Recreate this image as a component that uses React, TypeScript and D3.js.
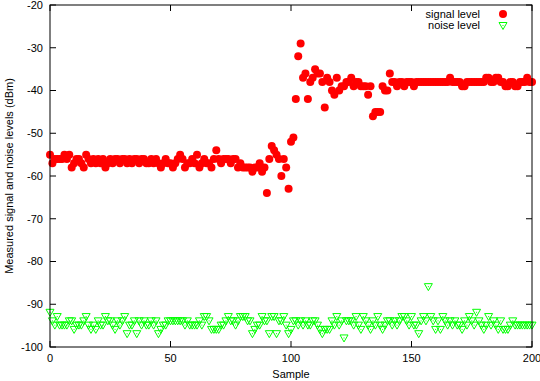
import React from "react";
import * as d3 from "d3";

const signalLevel: number[] = [
  -55, -57, -56, -56, -56, -56, -55, -56, -55, -58, -57, -56, -56, -57, -58, -55, -56, -57, -56, -57,
  -56, -57, -56, -58, -57, -56, -57, -56, -56, -57, -56, -56, -57, -56, -57, -56, -56, -57, -56, -56,
  -57, -57, -56, -57, -56, -57, -58, -57, -56, -57, -57, -58, -57, -56, -55, -56, -58, -57, -57, -56,
  -57, -55, -58, -57, -56, -57, -57, -58, -56, -54, -56, -57, -56, -56, -56, -57, -56, -56, -58, -57,
  -58, -58, -58, -58, -59, -58, -58, -57, -59, -58, -64, -56, -53, -54, -55, -56, -60, -56, -58, -63,
  -52, -51, -42, -32, -29, -37, -36, -42, -38, -37, -35, -36, -36, -38, -44, -37, -38, -40, -41, -37,
  -40, -39, -39, -38, -38, -37, -39, -38, -38, -39, -39, -39, -41, -39, -46, -45, -45, -45, -39, -40,
  -40, -36, -38, -38, -39, -38, -38, -39, -38, -38, -38, -39, -38, -38, -38, -38, -38, -38, -38, -38,
  -38, -38, -38, -38, -38, -38, -37, -38, -38, -38, -38, -39, -39, -38, -38, -38, -38, -38, -38, -38,
  -38, -37, -37, -38, -38, -37, -37, -38, -38, -39, -39, -38, -38, -39, -39, -38, -38, -38, -37, -38,
  -38,
];

const noiseLevel: number[] = [
  -92, -94, -95, -93, -95, -95, -95, -95, -94, -94, -96, -95, -95, -95, -94, -93, -95, -96, -95, -96,
  -94, -95, -95, -93, -94, -94, -95, -96, -94, -95, -94, -93, -97, -95, -95, -94, -97, -94, -95, -94,
  -95, -95, -94, -95, -94, -97, -96, -95, -95, -94, -94, -94, -94, -94, -94, -94, -95, -94, -95, -95,
  -95, -95, -94, -95, -93, -93, -94, -96, -96, -96, -96, -95, -95, -94, -93, -94, -94, -95, -94, -93,
  -93, -93, -94, -94, -97, -96, -95, -95, -93, -94, -94, -97, -93, -93, -97, -94, -94, -93, -95, -97,
  -96, -94, -94, -95, -94, -95, -94, -95, -95, -94, -94, -95, -96, -97, -96, -96, -96, -94, -95, -93,
  -95, -94, -98, -94, -94, -94, -95, -93, -95, -96, -93, -94, -95, -96, -94, -95, -93, -95, -96, -95,
  -94, -94, -95, -94, -95, -94, -93, -93, -94, -95, -93, -95, -95, -97, -94, -93, -94, -86, -93, -94,
  -96, -94, -96, -93, -94, -95, -94, -95, -94, -95, -95, -96, -94, -95, -93, -94, -95, -92, -94, -95,
  -96, -95, -93, -95, -94, -95, -96, -94, -96, -96, -96, -95, -94, -95, -95, -95, -95, -95, -95, -95,
  -95,
];

const xTicks: number[] = [0, 50, 100, 150, 200];
const yTicks: number[] = [-100, -90, -80, -70, -60, -50, -40, -30, -20];
const seriesNames: string[] = ["signal level", "noise level"];

const W = 540;
const H = 381;
const left = 50;
const right = 532;
const top = 5;
const bottom = 347;
const FONT = "'Liberation Sans', Arial, sans-serif";

export default function App() {
  const x = d3.scaleLinear().domain([0, 200]).range([left, right]);
  const y = d3.scaleLinear().domain([-100, -20]).range([bottom, top]);
  const tri = (cx: number, cy: number) =>
    `M${cx - 4},${cy - 3.5}L${cx + 4},${cy - 3.5}L${cx},${cy + 3.5}Z`;
  const tick = 6;

  return (
    <svg
      width={W}
      height={H}
      style={{ position: "absolute", left: 0, top: 0, background: "#fff" }}
      fontFamily={FONT}
      fontSize={11}
    >
      <rect x={0} y={0} width={W} height={H} fill="#fff" />
      {/* ticks */}
      {yTicks.map((t) => (
        <g key={"y" + t}>
          <line x1={left} x2={left + tick} y1={y(t)} y2={y(t)} stroke="#000" />
          <line x1={right} x2={right - tick} y1={y(t)} y2={y(t)} stroke="#000" />
          <text x={left - 7} y={y(t)} dy="0.35em" textAnchor="end" fill="#000">
            {t}
          </text>
        </g>
      ))}
      {xTicks.map((t) => (
        <g key={"x" + t}>
          <line x1={x(t)} x2={x(t)} y1={bottom} y2={bottom - tick} stroke="#000" />
          <line x1={x(t)} x2={x(t)} y1={top} y2={top + tick} stroke="#000" />
          <text x={x(t)} y={bottom + 11} dy="0.35em" textAnchor="middle" fill="#000">
            {t}
          </text>
        </g>
      ))}
      {/* signal */}
      {signalLevel.map((v, i) => (
        <circle key={"s" + i} cx={x(i)} cy={y(v)} r={4} fill="#ff0000" />
      ))}
      {/* noise */}
      {noiseLevel.map((v, i) => (
        <g key={"n" + i}>
          <path d={tri(x(i), y(v))} fill="none" stroke="#00ff00" strokeWidth={1} />
          <rect x={x(i) - 0.5} y={y(v) - 1} width={1} height={1} fill="#00ff00" />
        </g>
      ))}
      {/* border */}
      <rect
        x={left}
        y={top}
        width={right - left}
        height={bottom - top}
        fill="none"
        stroke="#000"
        strokeWidth={1}
      />
      {/* legend */}
      <text x={480} y={14} dy="0.35em" textAnchor="end" fill="#000">
        {seriesNames[0]}
      </text>
      <circle cx={503} cy={14} r={4} fill="#ff0000" />
      <text x={480} y={25} dy="0.35em" textAnchor="end" fill="#000">
        {seriesNames[1]}
      </text>
      <path d={tri(503, 26)} fill="none" stroke="#00ff00" />
      <rect x={502.5} y={25} width={1} height={1} fill="#00ff00" />
      {/* axis labels */}
      <text
        transform={`translate(9,${(top + bottom) / 2}) rotate(-90)`}
        dy="0.35em"
        textAnchor="middle"
        fill="#000"
      >
        Measured signal and noise levels (dBm)
      </text>
      <text x={(left + right) / 2} y={374} dy="0.35em" textAnchor="middle" fill="#000">
        Sample
      </text>
    </svg>
  );
}
